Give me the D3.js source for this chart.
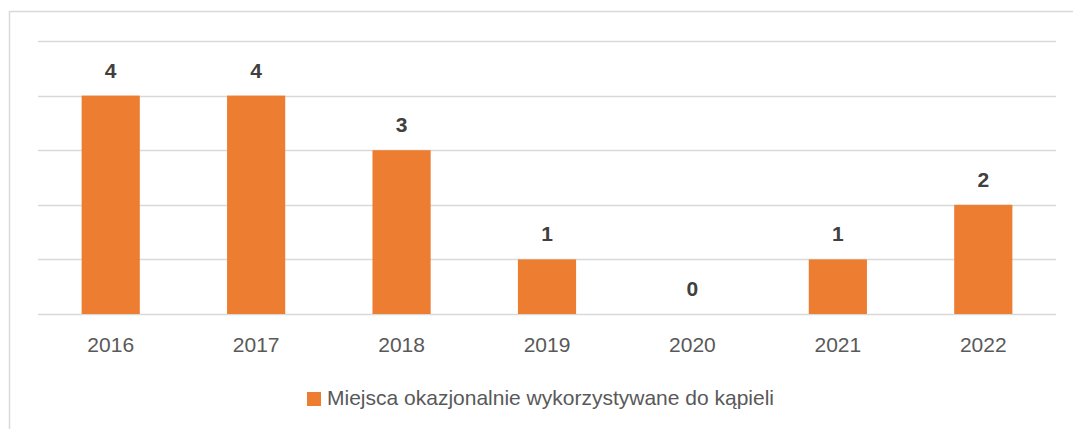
<!DOCTYPE html>
<html><head><meta charset="utf-8">
<script src="https://cdn.jsdelivr.net/npm/d3@7"></script>
<style>body{margin:0;background:#fff;}svg{display:block;}</style>
</head><body>
<script>
const categories = ["2016","2017","2018","2019","2020","2021","2022"];
const values = [4,4,3,1,0,1,2];
const seriesName = "Miejsca okazjonalnie wykorzystywane do kąpieli";
const yTicks = [0,1,2,3,4,5];

const W = 1073, H = 429;
const svg = d3.select("body").append("svg").attr("width", W).attr("height", H);
const font = "'Liberation Sans', Arial, sans-serif";

// chart border
svg.append("path").attr("d", `M9.5,${H} V11.5 H${W}`).attr("fill","none").attr("stroke","#D9D9D9").attr("stroke-width",1.5);

const x = d3.scaleBand().domain(categories).range([38, 1056]).paddingInner(0.6).paddingOuter(0.3);
const y = d3.scaleLinear().domain([0,5]).range([314, 41]);

svg.append("g").selectAll("line").data(yTicks).join("line")
  .attr("x1",38).attr("x2",1056)
  .attr("y1",d=>Math.round(y(d))+0.5).attr("y2",d=>Math.round(y(d))+0.5)
  .attr("stroke","#D9D9D9").attr("stroke-width",1.3);

svg.append("g").selectAll("rect").data(values).join("rect")
  .attr("x",(d,i)=>x(categories[i])).attr("width",x.bandwidth())
  .attr("y",d=>y(d)).attr("height",d=>y(0)-y(d))
  .attr("fill","#ED7D31");

svg.append("g").selectAll("text").data(values).join("text")
  .attr("x",(d,i)=>x(categories[i])+x.bandwidth()/2)
  .attr("y",d=>y(d)-18)
  .attr("text-anchor","middle").attr("font-family",font).attr("font-weight","bold")
  .attr("font-size",21).attr("fill","#404040").text(d=>d);

svg.append("g").selectAll("text").data(categories).join("text")
  .attr("x",d=>x(d)+x.bandwidth()/2).attr("y",352)
  .attr("text-anchor","middle").attr("font-family",font)
  .attr("font-size",21).attr("fill","#595959").text(d=>d);

svg.append("rect").attr("x",307).attr("y",392).attr("width",14).attr("height",14).attr("fill","#ED7D31");
svg.append("text").attr("x",327).attr("y",405).attr("font-family",font).attr("font-size",21)
  .attr("fill","#595959").text(seriesName);
</script>
</body></html>
